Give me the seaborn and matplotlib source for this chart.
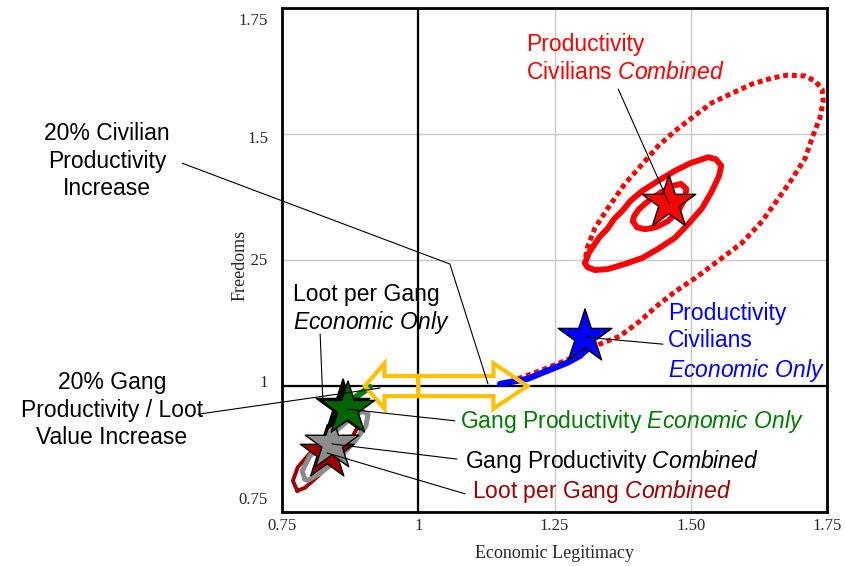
import matplotlib
matplotlib.use("Agg")
import matplotlib.pyplot as plt
import matplotlib.patches as mpatches
import matplotlib.transforms as mtransforms
import pandas as pd
import seaborn as sns

# --- trajectories (x = Economic Legitimacy, y = Freedoms) ---
# civilian productivity, combined: fast outer loop (dotted) ...
civ_comb_outer_x = [1.168, 1.187, 1.223, 1.260, 1.297, 1.333, 1.370, 1.407, 1.438, 1.471,
                    1.508, 1.550, 1.594, 1.631, 1.660, 1.686, 1.710, 1.724, 1.737, 1.743,
                    1.741, 1.728, 1.710, 1.678, 1.649, 1.612, 1.576, 1.539, 1.502, 1.471,
                    1.440, 1.411, 1.379, 1.348, 1.324, 1.310, 1.306]
civ_comb_outer_y = [1.008, 1.016, 1.030, 1.046, 1.063, 1.083, 1.099, 1.129, 1.159, 1.187,
                    1.214, 1.248, 1.284, 1.327, 1.371, 1.411, 1.452, 1.496, 1.532, 1.565,
                    1.589, 1.605, 1.615, 1.617, 1.611, 1.599, 1.581, 1.562, 1.532, 1.506,
                    1.476, 1.440, 1.401, 1.353, 1.313, 1.274, 1.248]
# ... second, slower loop (solid)
civ_comb_loop2_x = [1.306, 1.310, 1.324, 1.348, 1.379, 1.411, 1.440, 1.471, 1.495, 1.521,
                    1.539, 1.552, 1.556, 1.546, 1.532, 1.499, 1.471, 1.440, 1.411, 1.389,
                    1.374, 1.359, 1.348, 1.333, 1.324, 1.313, 1.306]
civ_comb_loop2_y = [1.244, 1.236, 1.230, 1.232, 1.242, 1.254, 1.272, 1.294, 1.321, 1.353,
                    1.387, 1.417, 1.437, 1.450, 1.454, 1.442, 1.427, 1.407, 1.387, 1.367,
                    1.347, 1.331, 1.313, 1.296, 1.282, 1.264, 1.244]
# ... and the small loop round the end point
civ_comb_loop3_x = [1.394, 1.401, 1.416, 1.436, 1.458, 1.477, 1.489, 1.492, 1.482, 1.466,
                    1.444, 1.422, 1.405, 1.396, 1.394]
civ_comb_loop3_y = [1.327, 1.315, 1.311, 1.315, 1.327, 1.347, 1.371, 1.391, 1.401, 1.397,
                    1.383, 1.367, 1.351, 1.337, 1.327]
# civilian productivity, economic only
civ_econ_x = [1.150, 1.200, 1.236, 1.273, 1.297, 1.315]
civ_econ_y = [1.004, 1.014, 1.030, 1.046, 1.060, 1.079]
# gang productivity, economic only
gang_econ_x = [0.875, 0.911]
gang_econ_y = [0.970, 0.998]
# loot per gang, combined
loot_comb_x = [0.778, 0.770, 0.779, 0.805, 0.838, 0.871, 0.888, 0.889, 0.875, 0.847, 0.816, 0.792, 0.778]
loot_comb_y = [0.792, 0.812, 0.839, 0.871, 0.905, 0.931, 0.935, 0.919, 0.891, 0.855, 0.821, 0.798, 0.792]
# gang productivity, combined
gang_comb_x = [0.792, 0.787, 0.801, 0.834, 0.871, 0.897, 0.908, 0.904, 0.884, 0.853, 0.820, 0.798, 0.792]
gang_comb_y = [0.815, 0.831, 0.861, 0.897, 0.931, 0.950, 0.944, 0.921, 0.891, 0.855, 0.827, 0.813, 0.815]

# end points (stars), in drawing order
star_names = ["Loot per Gang Combined", "Gang Productivity Combined", "Loot per Gang Economic Only",
              "Gang Productivity Economic Only", "Productivity Civilians Economic Only",
              "Productivity Civilians Combined"]
star_x = [0.833, 0.842, 0.862, 0.871, 1.306, 1.460]
star_y = [0.867, 0.885, 0.958, 0.954, 1.097, 1.363]
star_colors = ["#9C0000", "#8C8C8C", "#000000", "#006400", "#0000FF", "#FF0000"]

# 20% increase shift (yellow double arrow)
shift_start = 1.0
shift_left = 0.902
shift_right = 1.200

xticks = [0.75, 1, 1.25, 1.5, 1.75]
xticklabels = ["0.75", "1", "1.25", "1.50", "1.75"]
yticks = [0.75, 1, 1.25, 1.5, 1.75]
yticklabels = ["0.75", "1", "1.25", "1.5", "1.75"]

sns.set_style("white")
plt.rcParams["font.family"] = ["Liberation Sans", "DejaVu Sans"]
plt.rcParams["mathtext.fontset"] = "custom"
plt.rcParams["mathtext.rm"] = "Liberation Sans"
plt.rcParams["mathtext.it"] = "Liberation Sans:italic"

fig = plt.figure(figsize=(8.46, 5.66), dpi=100)
ax = fig.add_axes([282 / 846, 54 / 566, 545 / 846, 504 / 566])

# grid + the black cross at (1, 1)
ax.grid(True, color="#C8C8C8", lw=1, zorder=0)
ax.axvline(1, color="black", lw=1.6, zorder=1)
ax.axhline(1, color="black", lw=1.6, zorder=1)


def traj(x, y, color, **kw):
    df = pd.DataFrame({"x": x, "y": y})
    sns.lineplot(data=df, x="x", y="y", sort=False, estimator=None, color=color, ax=ax, **kw)


traj(civ_comb_outer_x, civ_comb_outer_y, "#FF0000", lw=3.6, linestyle=(0, (1, 0.75)), zorder=2)
traj(civ_comb_loop2_x, civ_comb_loop2_y, "#FF0000", lw=4.2, zorder=2, solid_joinstyle="round")
traj(civ_comb_loop3_x, civ_comb_loop3_y, "#FF0000", lw=4.2, zorder=2, solid_joinstyle="round")
traj(civ_econ_x, civ_econ_y, "#0000FF", lw=4.5, zorder=3, solid_capstyle="round")
traj(loot_comb_x, loot_comb_y, "#9C0000", lw=2.8, zorder=2, solid_joinstyle="round")
traj(gang_comb_x, gang_comb_y, "#8C8C8C", lw=3.6, zorder=2, solid_joinstyle="round")
traj(gang_econ_x, gang_econ_y, "#008000", lw=4.5, zorder=3)

# hollow yellow double arrow (two arrows meeting at x = 1)
for tip, hl in [(shift_left, 0.036), (shift_right, 0.062)]:
    ax.add_patch(mpatches.FancyArrow(shift_start, 1.0, tip - shift_start, 0, width=0.040,
                                     head_width=0.090, head_length=hl, length_includes_head=True,
                                     fill=False, edgecolor="#FFC000", lw=3, zorder=4))

stars = pd.DataFrame({"x": star_x, "y": star_y, "name": star_names})
sns.scatterplot(data=stars, x="x", y="y", hue="name", palette=dict(zip(star_names, star_colors)),
                marker="*", s=1650, edgecolor="black", linewidth=1, legend=False, zorder=5, ax=ax)

# leader lines
leaders = [
    ([1.367, 1.460], [1.589, 1.363]),
    ([0.567, 1.058, 1.128], [1.442, 1.242, 1.004]),
    ([0.820, 0.825], [1.103, 0.970]),
    ([0.596, 0.930], [0.944, 0.996]),
    ([1.306, 1.449], [1.097, 1.083]),
    ([0.871, 1.067], [0.954, 0.931]),
    ([0.842, 1.071], [0.885, 0.855]),
    ([0.833, 1.086], [0.867, 0.786]),
]
for lx, ly in leaders:
    ax.plot(lx, ly, color="black", lw=0.8, clip_on=False, zorder=6)

fs = 16.5
ls = 1.25
ax.text(1.198, 1.650, "Productivity\nCivilians $\\mathit{Combined}$", color="#FF0000",
        fontsize=fs, ha="left", va="center", linespacing=ls)
ax.text(0.429, 1.446, "20% Civilian\nProductivity\nIncrease", color="black",
        fontsize=fs, ha="center", va="center", linespacing=ls, multialignment="center")
ax.text(0.770, 1.151, "Loot per Gang\n$\\mathit{Economic\\ Only}$", color="black",
        fontsize=fs, ha="left", va="center", linespacing=1.15)
ax.text(0.438, 0.952, "20% Gang\nProductivity / Loot\nValue Increase", color="black",
        fontsize=fs, ha="center", va="center", linespacing=ls, multialignment="center")
ax.text(1.458, 1.085, "Productivity\nCivilians\n$\\mathit{Economic\\ Only}$", color="#0000FF",
        fontsize=fs, ha="left", va="center", linespacing=ls)
ax.text(1.077, 0.929, "Gang Productivity $\\mathit{Economic\\ Only}$", color="#007A00",
        fontsize=fs, ha="left", va="center")
ax.text(1.086, 0.851, "Gang Productivity $\\mathit{Combined}$", color="black",
        fontsize=fs, ha="left", va="center")
ax.text(1.099, 0.790, "Loot per Gang $\\mathit{Combined}$", color="#9C0000",
        fontsize=fs, ha="left", va="center")

ax.set_xlim(0.75, 1.75)
ax.set_ylim(0.75, 1.75)
ax.set_xticks(xticks)
ax.set_xticklabels(xticklabels, family="Liberation Serif", fontsize=12)
ax.set_yticks(yticks)
ax.set_yticklabels(yticklabels, family="Liberation Serif", fontsize=12)
ax.tick_params(axis="x", direction="in", length=3, pad=4, color="black")
ax.tick_params(axis="y", direction="in", length=3, pad=10, color="black")
for s in ax.spines.values():
    s.set_color("black")
    s.set_linewidth(2)

# y tick labels sit on a slightly squeezed scale, as in the original
for lab, dpx in zip(ax.get_yticklabels(), [14, 5, 1, -3, -11]):
    lab.set_transform(lab.get_transform() + mtransforms.ScaledTranslation(0, dpx / 100, fig.dpi_scale_trans))

ax.set_xlabel("Economic Legitimacy", family="Liberation Serif", fontsize=13)
ax.xaxis.set_label_coords(0.5, -0.066)
ax.set_ylabel("Freedoms", family="Liberation Serif", fontsize=13, va="center",
              bbox=dict(facecolor="white", edgecolor="none", pad=0))
ax.yaxis.set_label_coords(-0.077, 0.49)

fig.savefig("out.png", dpi=100)
